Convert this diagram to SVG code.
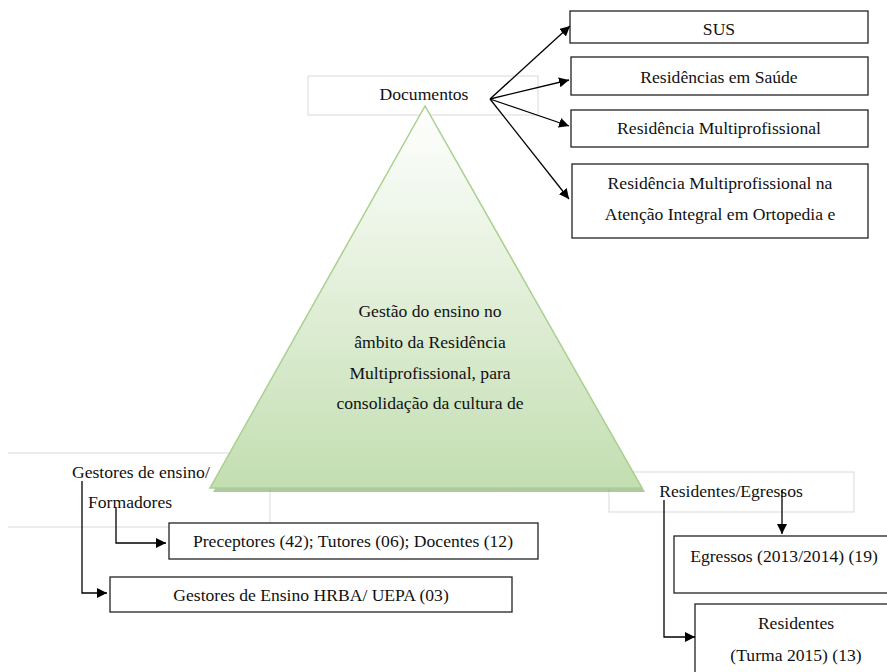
<svg xmlns="http://www.w3.org/2000/svg" width="887" height="672" viewBox="0 0 887 672">
<defs>
<style>
.c{text-anchor:middle;}
.box{fill:#fff;stroke:#222;stroke-width:1.3;}
.faint{fill:none;stroke:#d9d9d9;stroke-width:1;}
.ln{fill:none;stroke:#000;stroke-width:1.3;}
</style>
<marker id="ah" viewBox="0 0 10 10" refX="10" refY="5" markerWidth="10" markerHeight="10" markerUnits="userSpaceOnUse" orient="auto">
<path d="M0,0 L10,5 L0,10 z" fill="#000"/>
</marker>
<linearGradient id="tg" x1="0" y1="0" x2="0" y2="1">
<stop offset="0" stop-color="#ffffff"/>
<stop offset="1" stop-color="#c3deb1"/>
</linearGradient>
</defs>
<rect width="887" height="672" fill="#fff"/>
<g font-family="Liberation Serif, DejaVu Serif, serif" font-size="17.6" fill="#111">

<g id="documentos">
<rect class="faint" x="308" y="76" width="230" height="39"/>
<text class="c" x="424" y="100">Documentos</text>
</g>

<g id="gestores-label">
<path class="faint" d="M8,453 H270 V527 H8"/>
<text x="72" y="478">Gestores de ensino/</text>
<text x="88" y="508">Formadores</text>
</g>

<g id="residentes-egressos">
<rect class="faint" x="609" y="472" width="245" height="40"/>
<text class="c" x="731" y="497">Residentes/Egressos</text>
</g>

<g id="triangulo">
<polygon points="427,110 213,492 645,492" fill="#8fae7d" opacity="0.7"/>
<polygon points="425,106 210,488 642,488" fill="url(#tg)" stroke="#a9d18e" stroke-width="1.5"/>
<text class="c" x="430" y="317">Gestão do ensino no</text>
<text class="c" x="430" y="348">âmbito da Residência</text>
<text class="c" x="430" y="379">Multiprofissional, para</text>
<text class="c" x="430" y="409">consolidação da cultura de</text>
</g>

<g id="sus">
<rect class="box" x="570" y="11" width="298" height="32"/>
<text class="c" x="719" y="35">SUS</text>
</g>
<g id="residencias-saude">
<rect class="box" x="571" y="57" width="297" height="38"/>
<text class="c" x="719" y="83">Residências em Saúde</text>
</g>
<g id="residencia-multi">
<rect class="box" x="571" y="110" width="297" height="37"/>
<text class="c" x="719" y="134">Residência Multiprofissional</text>
</g>
<g id="residencia-ortopedia">
<rect class="box" x="572" y="164" width="296" height="74"/>
<text class="c" x="720" y="189">Residência Multiprofissional na</text>
<text class="c" x="720" y="220">Atenção Integral em Ortopedia e</text>
</g>

<g id="preceptores">
<rect class="box" x="169" y="523" width="369" height="36"/>
<text class="c" x="353" y="547">Preceptores (42); Tutores (06); Docentes (12)</text>
</g>
<g id="gestores-ensino">
<rect class="box" x="110" y="577" width="402" height="35"/>
<text class="c" x="311" y="601">Gestores de Ensino HRBA/ UEPA (03)</text>
</g>

<g id="egressos">
<rect class="box" x="674" y="536" width="220" height="57"/>
<text class="c" x="784" y="562">Egressos (2013/2014) (19)</text>
</g>
<g id="residentes">
<rect class="box" x="695" y="604" width="200" height="80"/>
<text class="c" x="796" y="629">Residentes</text>
<text class="c" x="796" y="661">(Turma 2015) (13)</text>
</g>
</g>

<g id="connectors">
<line class="ln" x1="490" y1="99" x2="570" y2="26" marker-end="url(#ah)"/>
<line class="ln" x1="490" y1="99" x2="569" y2="80" marker-end="url(#ah)"/>
<line class="ln" x1="490" y1="99" x2="569" y2="126" marker-end="url(#ah)"/>
<line class="ln" x1="490" y1="99" x2="569" y2="199" marker-end="url(#ah)"/>
<polyline class="ln" points="82,481 82,593 107,593" marker-end="url(#ah)"/>
<polyline class="ln" points="116,507 116,543 166,543" marker-end="url(#ah)"/>
<line class="ln" x1="782" y1="490" x2="782" y2="534" marker-end="url(#ah)"/>
<polyline class="ln" points="664,500 664,637 695,637" marker-end="url(#ah)"/>
</g>
</svg>
